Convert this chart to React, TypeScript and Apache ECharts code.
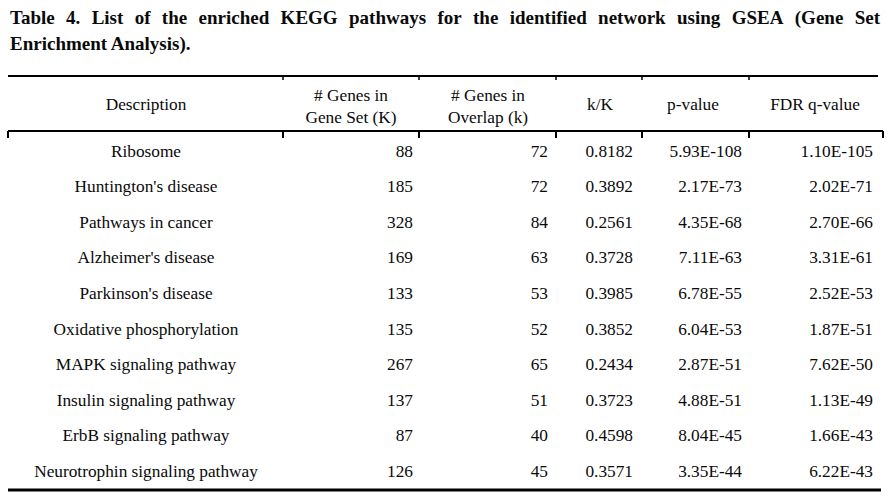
import React, { useEffect, useRef } from "react";
import * as echarts from "echarts";

const TITLE_LINE1 =
  "Table 4. List of the enriched KEGG pathways for the identified network using GSEA (Gene Set";
const TITLE_LINE2 = "Enrichment Analysis).";

const headers: string[][] = [
  ["Description"],
  ["# Genes in", "Gene Set (K)"],
  ["# Genes in", "Overlap (k)"],
  ["k/K"],
  ["p-value"],
  ["FDR q-value"],
];

const descriptions = [
  "Ribosome",
  "Huntington's disease",
  "Pathways in cancer",
  "Alzheimer's disease",
  "Parkinson's disease",
  "Oxidative phosphorylation",
  "MAPK signaling pathway",
  "Insulin signaling pathway",
  "ErbB signaling pathway",
  "Neurotrophin signaling pathway",
];
const geneSetSizes = [88, 185, 328, 169, 133, 135, 267, 137, 87, 126];
const overlapCounts = [72, 72, 84, 63, 53, 52, 65, 51, 40, 45];
const ratios = [0.8182, 0.3892, 0.2561, 0.3728, 0.3985, 0.3852, 0.2434, 0.3723, 0.4598, 0.3571];
const pValues = [5.93e-108, 2.17e-73, 4.35e-68, 7.11e-63, 6.78e-55, 6.04e-53, 2.87e-51, 4.88e-51, 8.04e-45, 3.35e-44];
const fdrValues = [1.1e-105, 2.02e-71, 2.7e-66, 3.31e-61, 2.52e-53, 1.87e-51, 7.62e-50, 1.13e-49, 1.66e-43, 6.22e-43];

const FAMILY = "Liberation Serif";
const INK = "#0a0a0a";

const fmtExp = (v: number) => v.toExponential(2).toUpperCase();

function textEl(x: number, y: number, text: string, size: number, weight: string, align: string) {
  return {
    type: "text",
    x,
    y,
    style: {
      text,
      fontFamily: FAMILY,
      fontSize: size,
      fontWeight: weight,
      fill: INK,
      textAlign: align,
      textVerticalAlign: "middle",
    },
  };
}

function buildGraphics(): any[] {
  const els: any[] = [];
  // Title line 1 justified
  const titleSize = 19;
  const left = 10;
  const right = 880;
  const words = TITLE_LINE1.split(" ");
  const canvas = document.createElement("canvas");
  const ctx = canvas.getContext("2d")!;
  ctx.font = `bold ${titleSize}px "${FAMILY}"`;
  const widths = words.map((w) => ctx.measureText(w).width);
  const total = widths.reduce((a, b) => a + b, 0);
  const gap = (right - left - total) / (words.length - 1);
  let x = left;
  words.forEach((w, i) => {
    els.push(textEl(x, 17.5, w, titleSize, "bold", "left"));
    x += widths[i] + gap;
  });
  els.push(textEl(left, 43.5, TITLE_LINE2, titleSize, "bold", "left"));

  // Rules
  const line = (x1: number, y1: number, x2: number, y2: number, w: number) =>
    els.push({
      type: "line",
      shape: { x1, y1, x2, y2 },
      style: { stroke: "#000", lineWidth: w },
    });
  line(8, 76, 878, 76, 2);
  [283, 419, 556, 642, 749].forEach((bx) => line(bx, 76, bx, 80, 1.5));
  line(8, 131, 883, 131, 2.2);
  [8, 283, 419, 556, 642, 749, 883].forEach((bx) => line(bx, 131, bx, 138, 2));
  line(8, 490, 881, 490, 3);

  // Headers
  const headerCenters = [146, 351, 488, 600, 693, 815];
  const bodySize = 17.3;
  headers.forEach((h, i) => {
    const ys = h.length === 2 ? [95, 117] : [104];
    h.forEach((t, j) => {
      els.push(textEl(headerCenters[i], ys[j], t, bodySize, "normal", "center"));
    });
  });

  // Body
  const colX = [146, 413, 548, 633, 742, 873];
  const colAlign = ["center", "right", "right", "right", "right", "right"];
  descriptions.forEach((d, r) => {
    const y = 151 + r * 35.6;
    const cells = [
      d,
      String(geneSetSizes[r]),
      String(overlapCounts[r]),
      ratios[r].toFixed(4),
      fmtExp(pValues[r]),
      fmtExp(fdrValues[r]),
    ];
    cells.forEach((c, ci) => {
      els.push(textEl(colX[ci], y, c, bodySize, "normal", colAlign[ci]));
    });
  });
  return els;
}

export default function App() {
  const ref = useRef<HTMLDivElement>(null);
  useEffect(() => {
    if (!ref.current) return;
    const chart = echarts.init(ref.current, undefined, { renderer: "svg" });
    chart.setOption({
      animation: false,
      backgroundColor: "#ffffff",
      graphic: { elements: buildGraphics() },
    });
    return () => chart.dispose();
  }, []);
  return (
    <div
      ref={ref}
      style={{ position: "fixed", left: 0, top: 0, width: 888, height: 498, background: "#fff" }}
    />
  );
}
